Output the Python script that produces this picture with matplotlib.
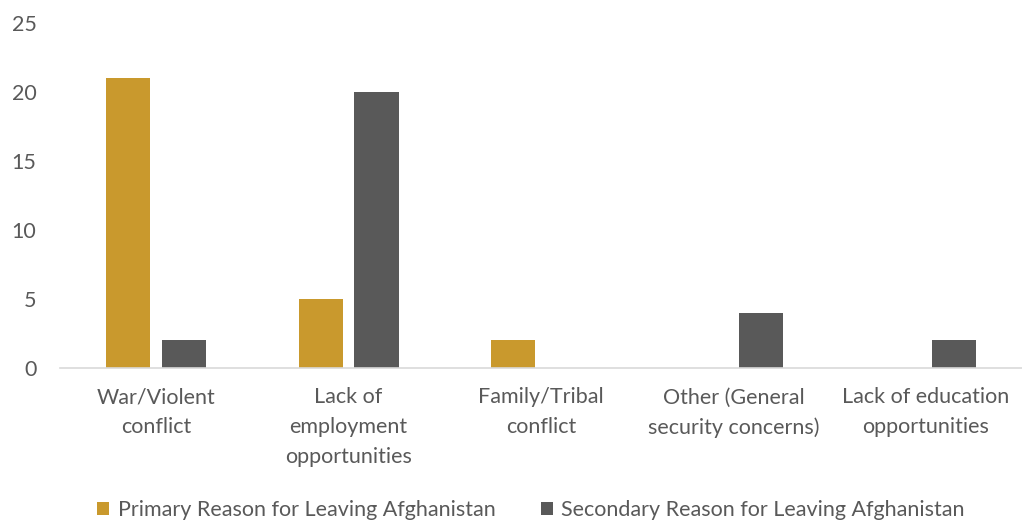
import numpy as np
import matplotlib
matplotlib.use("Agg")
import matplotlib.pyplot as plt

categories = ["War/Violent\nconflict", "Lack of\nemployment\nopportunities",
              "Family/Tribal\nconflict", "Other (General\nsecurity concerns)",
              "Lack of education\nopportunities"]
primary = [21, 5, 2, 0, 0]
secondary = [2, 20, 0, 4, 2]
series_names = ["Primary Reason for Leaving Afghanistan",
                "Secondary Reason for Leaving Afghanistan"]

GOLD = "#C9992D"
GREY = "#595959"
TXT = "#595959"
FS = 15.5

plt.rcParams["font.family"] = ["Lato", "DejaVu Sans"]

fig = plt.figure(figsize=(10.22, 5.21), dpi=100)
ax = fig.add_axes([60 / 1022, 153 / 521, 962 / 1022, 345 / 521])

x = np.arange(len(categories))
w = 0.23
off = 0.145
ax.bar(x - off, primary, w, color=GOLD, label=series_names[0])
ax.bar(x + off, secondary, w, color=GREY, label=series_names[1])

ax.set_xlim(-0.5, len(categories) - 0.5)
ax.set_ylim(0, 25)
ax.set_yticks(range(0, 26, 5))
ax.set_xticks(x)
ax.set_xticklabels(categories, fontsize=FS, color=TXT, linespacing=1.62)
ax.tick_params(axis="y", labelsize=FS, labelcolor=TXT, length=0, pad=17)
ax.tick_params(axis="x", length=0, pad=14)
for s in ["top", "right", "left"]:
    ax.spines[s].set_visible(False)
ax.spines["bottom"].set_color("#D9D9D9")
ax.spines["bottom"].set_linewidth(1.2)

fig.legend(loc="center", bbox_to_anchor=(531 / 1022, 1 - 510 / 521), ncol=2,
           frameon=False, fontsize=FS, labelcolor=TXT, handlelength=0.55,
           handleheight=0.55, handletextpad=0.4, columnspacing=2.1)

fig.savefig("out.png", dpi=100)
